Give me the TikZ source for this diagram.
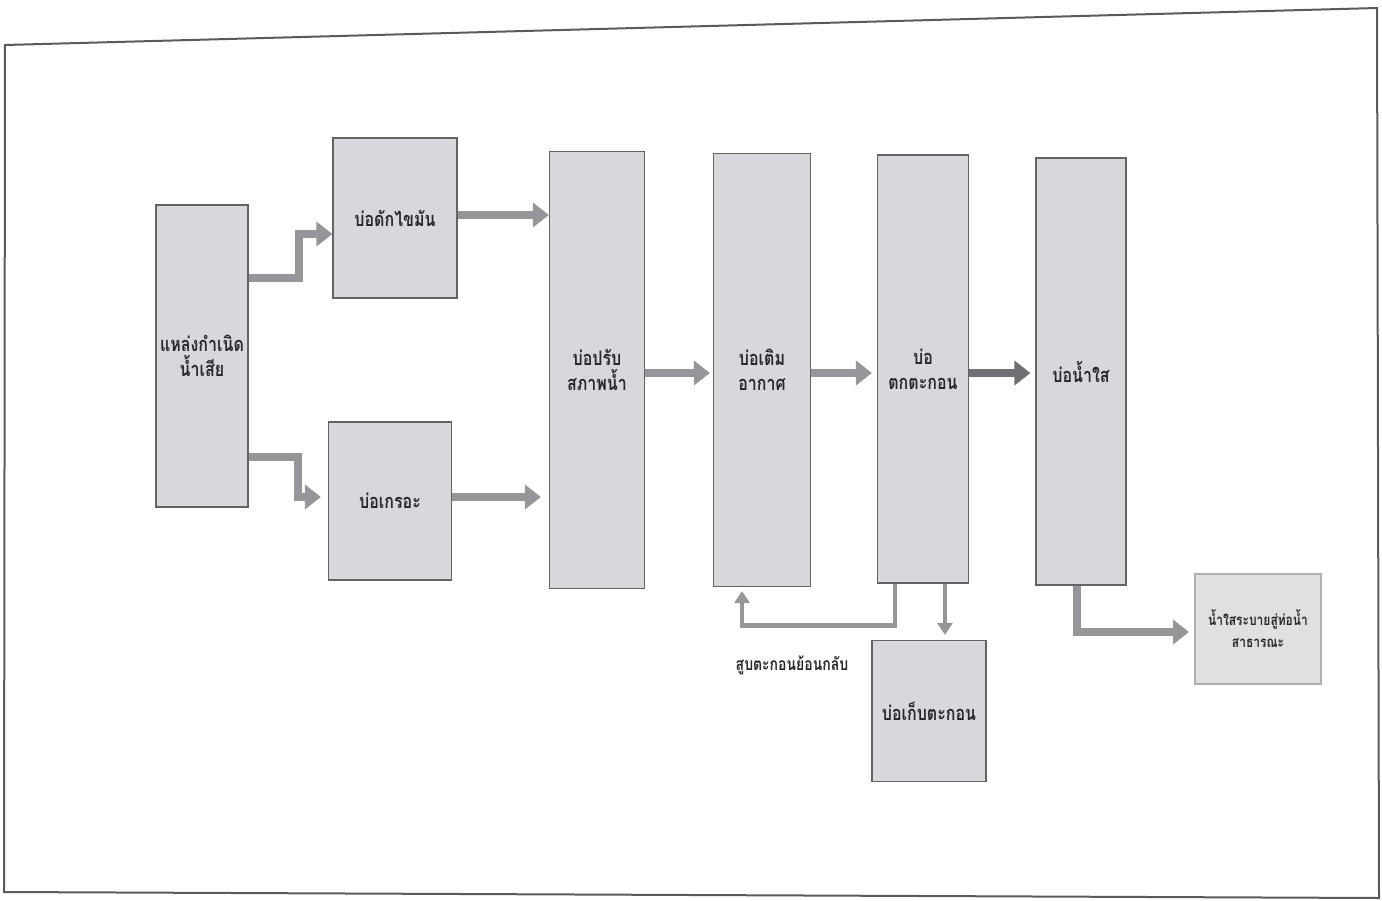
\documentclass[tikz,border=0pt]{standalone}
\usepackage{fontspec}
\newfontfamily\thai[Script=Thai,FakeStretch=0.8]{Loma}
\usetikzlibrary{arrows.meta,calc}
\definecolor{boxfill}{RGB}{216,216,220}
\definecolor{boxline}{RGB}{100,100,104}
\definecolor{arrowgray}{RGB}{150,150,154}
\definecolor{arrowdark}{RGB}{112,112,116}
\definecolor{framecol}{RGB}{90,90,90}
\definecolor{outfill}{RGB}{224,224,227}
\definecolor{outline}{RGB}{175,175,178}
\definecolor{textcol}{RGB}{40,40,44}
\begin{document}
\begin{tikzpicture}[x=1pt,y=-1pt,
  tank/.style={draw=boxline, line width=1.2pt, fill=boxfill, align=center, inner sep=0pt,
    text=textcol, font=\thai\bfseries\fontsize{20}{25}\selectfont},
  flow/.style={draw=arrowgray, line width=8pt, -{Triangle[width=24pt,length=16pt]}},
  thin flow/.style={draw=arrowgray, line width=4.5pt, -{Triangle[width=15pt,length=12pt]}}
]
\useasboundingbox (0,0) rectangle (1382,900);
\draw[line width=2pt, draw=framecol] (5,45) -- (1377,8) -- (1379,898) -- (4,892) -- cycle;

\node[tank, minimum width=92pt, minimum height=302pt] (src) at (202,356) {แหล่งกำเนิด\\น้ำเสีย};
\node[tank, minimum width=124pt, minimum height=160pt] (grease) at (395,218) {บ่อดักไขมัน};
\node[tank, minimum width=123pt, minimum height=158pt] (septic) at (390,501) {บ่อเกรอะ};
\node[tank, minimum width=95pt, minimum height=437pt] (adjust) at (597,370) {บ่อปรับ\\สภาพน้ำ};
\node[tank, minimum width=97pt, minimum height=433pt] (aer) at (762,370) {บ่อเติม\\อากาศ};
\node[tank, minimum width=91pt, minimum height=428pt] (settle) at (923,369) {บ่อ\\ตกตะกอน};
\node[tank, minimum width=90pt, minimum height=427pt] (clear) at (1081,371.5) {บ่อน้ำใส};
\node[tank, minimum width=114pt, minimum height=141pt] (sludge) at (929,711) {บ่อเก็บตะกอน};
\node[tank, draw=outline, fill=outfill, line width=2pt, minimum width=126pt, minimum height=110pt,
  font=\thai\bfseries\fontsize{15}{22}\selectfont] (out) at (1258,629) {น้ำใสระบายสู่ท่อน้ำ\\สาธารณะ};
\node[text=textcol, font=\thai\bfseries\fontsize{17.5}{20}\selectfont, inner sep=0pt] (recyclelbl) at (792,665) {สูบตะกอนย้อนกลับ};

\draw[flow] ([yshift=78pt]src.east) -- ++(50,0) |- ([yshift=-16pt]grease.west);
\draw[flow] ([yshift=-101pt]src.east) -- ++(49,0) |- ([xshift=-7pt,yshift=4pt]septic.west);
\draw[flow] ([yshift=3pt]grease.east) -- ([yshift=3pt]grease.east -| adjust.west);
\draw[flow] ([yshift=4pt]septic.east) -- ([xshift=-8pt,yshift=4pt]septic.east -| adjust.west);
\draw[flow] ([yshift=-3pt]adjust.east) -- ([xshift=-3pt,yshift=-3pt]adjust.east -| aer.west);
\draw[flow] ([yshift=-3pt]aer.east) -- ([xshift=-5pt,yshift=-3pt]aer.east -| settle.west);
\draw[flow, draw=arrowdark] ([yshift=-4pt]settle.east) -- ([xshift=-5pt,yshift=-4pt]settle.east -| clear.west);

\coordinate (rs) at ([xshift=-28pt]settle.south);
\draw[thin flow] (rs) -- ++(0,42) -| ([xshift=-20pt,yshift=-4pt]aer.south);
\coordinate (ss) at ([xshift=22pt]settle.south);
\draw[thin flow] (ss) -- ([yshift=5pt]ss |- sludge.north);
\coordinate (cs) at ([xshift=-4pt]clear.south);
\draw[flow] (cs) |- ([xshift=-5pt,yshift=-3pt]out.west);
\end{tikzpicture}
\end{document}
